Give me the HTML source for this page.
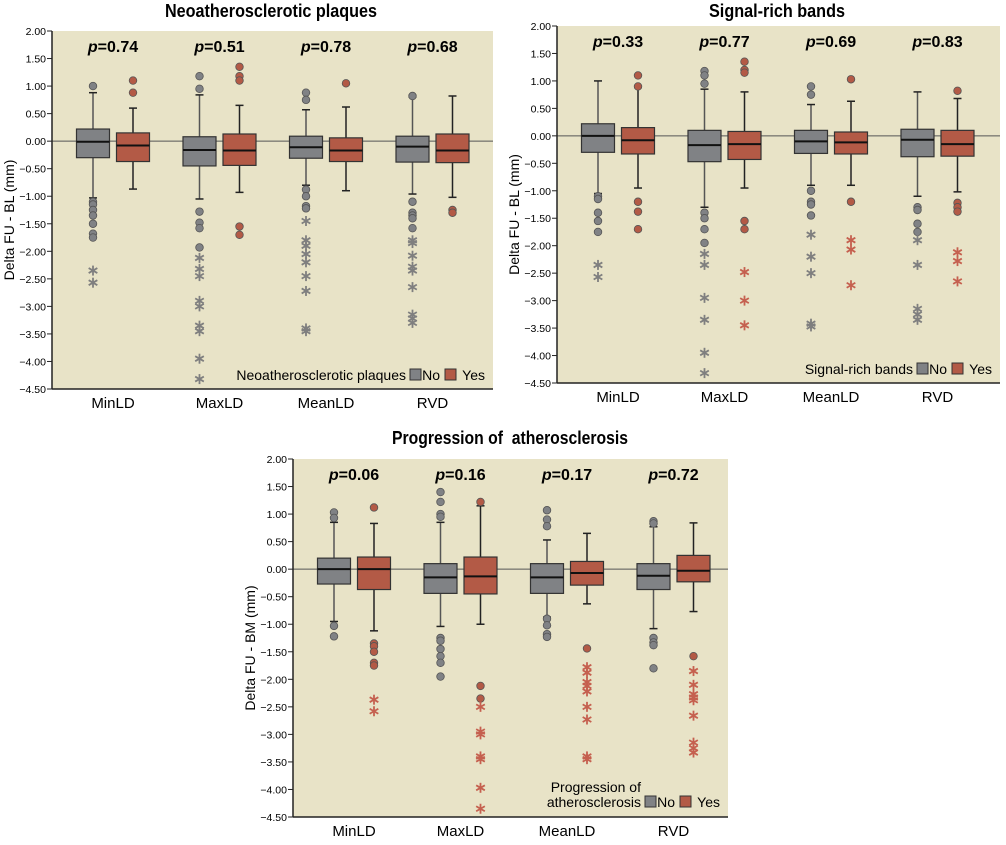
<!DOCTYPE html>
<html><head><meta charset="utf-8"><style>
body{margin:0;background:#fff;width:1006px;height:840px;overflow:hidden}
svg{font-family:"Liberation Sans Narrow","Liberation Sans",sans-serif}
</style></head><body>
<svg id="s" width="1006" height="840" xmlns="http://www.w3.org/2000/svg"></svg>
<script>
const S=document.getElementById('s');let h='';
const G='#808285',R='#b35a46',BG='#e8e3c7';
function star(x,y,c){let s='';const r=5;
 [[0,1],[0.866,0.5],[0.866,-0.5]].forEach(([a,b])=>{s+=`<line x1="${x-a*r}" y1="${y-b*r}" x2="${x+a*r}" y2="${y+b*r}" stroke="${c}" stroke-width="1.8"/>`;});return s;}
function panel(P){
 const ax=P.x, top=P.top, bot=P.bot, right=P.right;
 const k=(bot-top)/6.5, Y=v=>top+(2-v)*k;
 h+=`<text x="${P.tx-P.tw/2}" y="${P.ty}" font-size="18" font-weight="bold" textLength="${P.tw}" lengthAdjust="spacingAndGlyphs">${P.title}</text>`;
 h+=`<rect x="${ax}" y="${top}" width="${right-ax}" height="${bot-top}" fill="${BG}"/>`;
 h+=`<line x1="${ax}" y1="${Y(0)}" x2="${right}" y2="${Y(0)}" stroke="#555" stroke-width="1"/>`;
 h+=`<line x1="${ax}" y1="${top}" x2="${ax}" y2="${bot}" stroke="#222" stroke-width="1.5"/>`;
 h+=`<line x1="${ax}" y1="${bot}" x2="${right}" y2="${bot}" stroke="#222" stroke-width="1.5"/>`;
 for(let v=2;v>=-4.5;v-=0.5){const y=Y(v);
  h+=`<line x1="${ax-5}" y1="${y}" x2="${ax}" y2="${y}" stroke="#222"/>`;
  h+=`<text x="${ax-6}" y="${y+4}" font-size="10.5" text-anchor="end">${(v<0?'−':'')+Math.abs(v).toFixed(2)}</text>`;}
 h+=`<text transform="translate(${ax-38},${(top+bot)/2+10}) rotate(-90)" font-size="14" text-anchor="middle">${P.ylab}</text>`;
 const cats=['MinLD','MaxLD','MeanLD','RVD'];
 cats.forEach((c,i)=>{const cx=ax+61+i*106.5;
  h+=`<text x="${cx}" y="${bot+19}" font-size="15" text-anchor="middle">${c}</text>`;
  h+=`<text x="${cx}" y="${top+21}" font-size="16" font-weight="bold" text-anchor="middle"><tspan font-style="italic">p</tspan>=${P.p[i]}</text>`;
  [0,1].forEach(j=>{const d=P.d[i*2+j];const bx=cx+(j?20:-20);const col=j?R:G;const wc=j?'#222':'#555';const w=33;
   const [q1,md,q3,wl,wh,ci,st]=d;
   h+=`<line x1="${bx}" y1="${Y(wh)}" x2="${bx}" y2="${Y(wl)}" stroke="${wc}" stroke-width="1.5"/>`;
   h+=`<line x1="${bx-4}" y1="${Y(wh)}" x2="${bx+4}" y2="${Y(wh)}" stroke="#222" stroke-width="1.5"/>`;
   h+=`<line x1="${bx-4}" y1="${Y(wl)}" x2="${bx+4}" y2="${Y(wl)}" stroke="#222" stroke-width="1.5"/>`;
   h+=`<rect x="${bx-w/2}" y="${Y(q3)}" width="${w}" height="${Y(q1)-Y(q3)}" fill="${col}" stroke="#333" stroke-width="1.2"/>`;
   h+=`<line x1="${bx-w/2}" y1="${Y(md)}" x2="${bx+w/2}" y2="${Y(md)}" stroke="#111" stroke-width="2"/>`;
   (ci||[]).forEach(v=>h+=`<circle cx="${bx}" cy="${Y(v)}" r="3.8" fill="${col}" stroke="#555" stroke-width="0.8"/>`);
   (st||[]).forEach(v=>h+=star(bx,Y(v),j?'#c5604f':'#7f7f7f'));
  });
 });
 const ly=P.ly, lr=right-8;
 h+=`<rect x="${lr-40}" y="${ly-11}" width="11" height="11" fill="${R}" stroke="#333"/><text x="${lr}" y="${ly}" font-size="14" text-anchor="end">Yes</text>`;
 h+=`<rect x="${lr-75}" y="${ly-11}" width="11" height="11" fill="${G}" stroke="#333"/><text x="${lr-45}" y="${ly}" font-size="14" text-anchor="end">No</text>`;
 P.leg.forEach((t,i)=>{h+=`<text x="${lr-79}" y="${ly-(P.leg.length-1-i)*15}" font-size="14" text-anchor="end">${t}</text>`;});
}
const d1=[
[-.30,-.01,.22,-1.03,.88,[1.0,-1.1,-1.15,-1.25,-1.35,-1.5,-1.68,-1.75],[-2.35,-2.57]],
[-.37,-.08,.15,-.87,.6,[1.1,.88],[]],
[-.45,-.16,.08,-1.05,.84,[1.18,.95,-1.28,-1.48,-1.58,-1.93],[-2.12,-2.32,-2.45,-2.9,-3.0,-3.35,-3.45,-3.95,-4.32]],
[-.44,-.17,.13,-.93,.65,[1.35,1.18,1.1,-1.55,-1.7],[]],
[-.31,-.11,.09,-.8,.57,[.88,.75,-.88,-1.0,-1.18,-1.22],[-1.45,-1.8,-1.9,-2.05,-2.2,-2.45,-2.72,-3.4,-3.45]],
[-.37,-.17,.06,-.9,.62,[1.05],[]],
[-.38,-.1,.09,-.96,.8,[.82,-1.1,-1.3,-1.35,-1.4,-1.58],[-1.8,-1.85,-2.08,-2.28,-2.35,-2.65,-3.15,-3.22,-3.3]],
[-.39,-.17,.13,-1.02,.82,[-1.25,-1.3],[]]];
const d2=[
[-.30,0,.22,-1.05,1.0,[-1.1,-1.15,-1.4,-1.55,-1.75],[-2.35,-2.57]],
[-.33,-.08,.15,-.95,.88,[1.1,.9,-1.2,-1.38,-1.7],[]],
[-.47,-.17,.1,-1.3,.85,[1.18,1.1,.95,-1.4,-1.5,-1.7,-1.95],[-2.15,-2.35,-2.95,-3.35,-3.95,-4.32]],
[-.43,-.15,.08,-.95,.8,[1.35,1.2,1.15,-1.55,-1.7],[-2.48,-3.0,-3.45]],
[-.32,-.1,.1,-.9,.57,[.9,.75,-1.0,-1.2,-1.25,-1.45],[-1.8,-2.2,-2.5,-3.42,-3.47]],
[-.33,-.12,.07,-.9,.63,[1.03,-1.2],[-1.9,-2.07,-2.72]],
[-.38,-.07,.12,-1.1,.8,[-1.3,-1.35,-1.6,-1.75],[-1.9,-2.35,-3.15,-3.25,-3.35]],
[-.37,-.15,.1,-1.02,.68,[.82,-1.22,-1.3,-1.38],[-2.12,-2.28,-2.65]]];
const d3=[
[-.27,0,.2,-.95,.85,[1.03,.93,-1.03,-1.22],[]],
[-.37,0,.22,-1.12,.83,[1.12,-1.35,-1.4,-1.5,-1.7,-1.75],[-2.37,-2.58]],
[-.44,-.15,.1,-1.04,.85,[1.4,1.22,1.0,.95,-1.25,-1.3,-1.45,-1.58,-1.7,-1.95],[]],
[-.45,-.13,.22,-1.0,1.15,[1.22,-2.12,-2.35],[-2.5,-2.95,-3.0,-3.4,-3.45,-3.97,-4.35]],
[-.44,-.15,.1,-.87,.53,[1.07,.9,.78,-.9,-1.02,-1.18,-1.23],[]],
[-.29,-.07,.14,-.63,.65,[-1.44],[-1.78,-1.88,-2.05,-2.12,-2.22,-2.5,-2.73,-3.4,-3.45]],
[-.37,-.12,.1,-1.08,.77,[.87,.83,-1.25,-1.33,-1.38,-1.8],[]],
[-.23,-.03,.25,-.77,.84,[-1.58],[-1.85,-2.1,-2.27,-2.33,-2.38,-2.66,-3.15,-3.25,-3.33]]];
panel({x:52,top:31,bot:389,right:493,tx:271,tw:212,ty:17,title:'Neoatherosclerotic plaques',ylab:'Delta FU - BL (mm)',p:['0.74','0.51','0.78','0.68'],d:d1,ly:380,leg:['Neoatherosclerotic plaques']});
panel({x:557,top:26,bot:383,right:1000,tx:777,tw:136,ty:17,title:'Signal-rich bands',ylab:'Delta FU - BL (mm)',p:['0.33','0.77','0.69','0.83'],d:d2,ly:374,leg:['Signal-rich bands']});
panel({x:293,top:459,bot:817,right:728,tx:510,tw:236,ty:444,title:'Progression of&#160; atherosclerosis',ylab:'Delta FU - BM (mm)',p:['0.06','0.16','0.17','0.72'],d:d3,ly:807,leg:['Progression of','atherosclerosis']});
S.innerHTML=h;
</script>
</body></html>
